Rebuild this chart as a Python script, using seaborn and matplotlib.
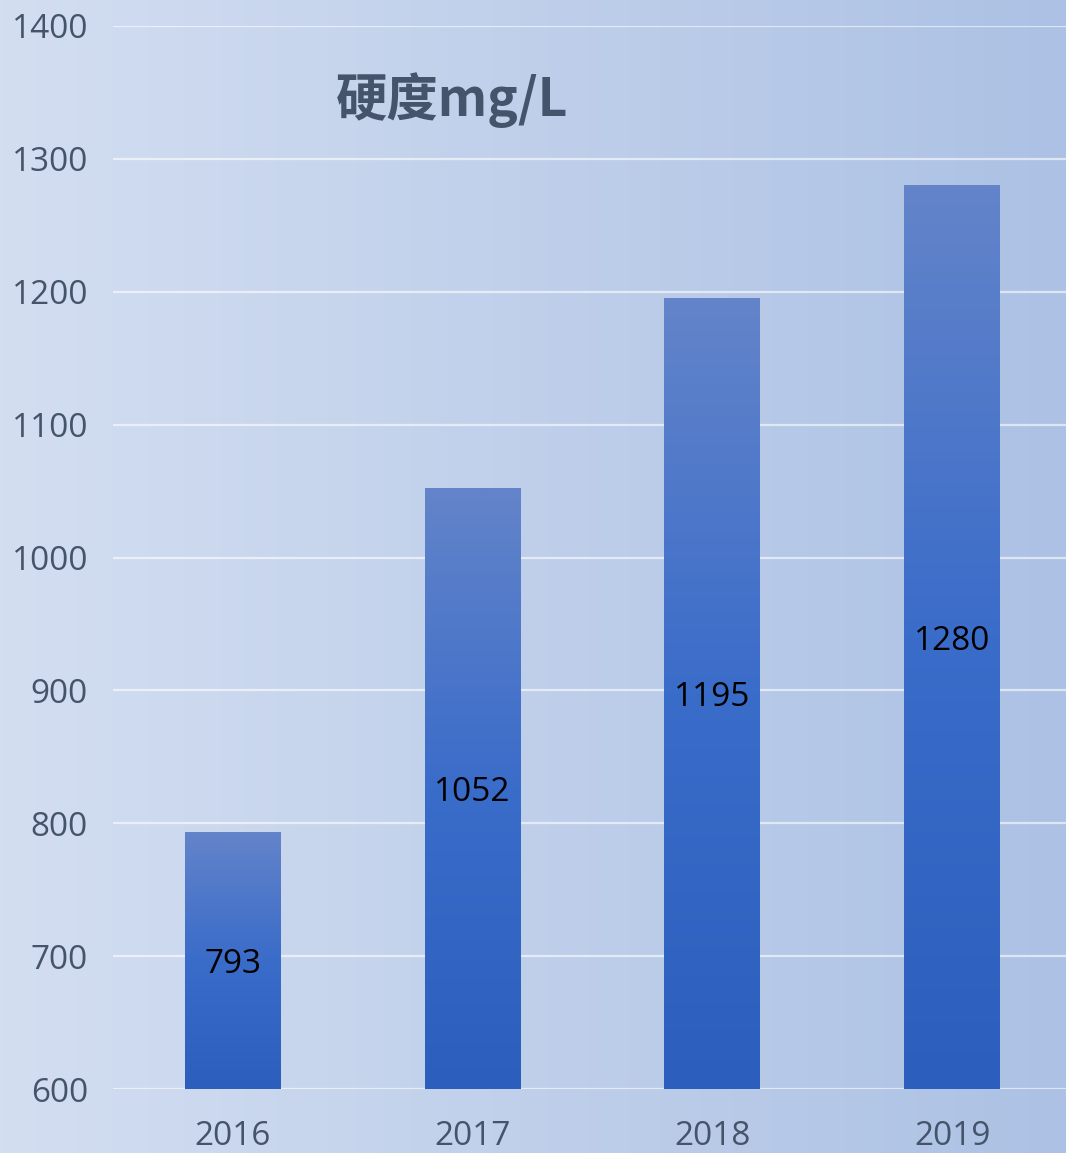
import numpy as np
import pandas as pd
import matplotlib
matplotlib.use("Agg")
import matplotlib.pyplot as plt
import seaborn as sns
from matplotlib.colors import LinearSegmentedColormap

# Water hardness by year (mg/L)
years = ["2016", "2017", "2018", "2019"]
hardness = [793, 1052, 1195, 1280]
y_ticks = [600, 700, 800, 900, 1000, 1100, 1200, 1300, 1400]
title = "硬度mg/L"

sns.set_theme(style="white")
plt.rcParams["font.family"] = ["Open Sans", "Noto Sans CJK SC", "DejaVu Sans"]

W, H = 1066, 1153
fig = plt.figure(figsize=(W / 100, H / 100), dpi=100)

# soft horizontal gradient behind everything
bg = fig.add_axes([0, 0, 1, 1], zorder=0)
bg_cmap = LinearSegmentedColormap.from_list("bg", ["#d3def1", "#acc1e4"])
bg.imshow(np.linspace(0, 1, 256).reshape(1, -1), aspect="auto", cmap=bg_cmap,
          extent=[0, 1, 0, 1])
bg.axis("off")

ax = fig.add_axes([113 / W, 64 / H, (1072 - 113) / W, (1089 - 26) / H], zorder=1)
ax.patch.set_alpha(0)

df = pd.DataFrame({"year": years, "hardness": hardness})
sns.barplot(data=df, x="year", y="hardness", ax=ax, width=0.4,
            color="#3c6cc8", saturation=1, errorbar=None)

ymin, ymax = y_ticks[0], y_ticks[-1]
ax.set_ylim(ymin, ymax)
ax.set_xlim(-0.5, 3.5)

# vertical gradient fill for each bar
bar_cmap = LinearSegmentedColormap.from_list("bar", ["#2c5ebd", "#3a6cca", "#6384c9"])
for patch in ax.patches:
    x0 = patch.get_x()
    w = patch.get_width()
    h = patch.get_height()
    patch.set_facecolor("none")
    patch.set_edgecolor("none")
    ax.imshow(np.linspace(0, 1, 256).reshape(-1, 1), aspect="auto", cmap=bar_cmap,
              origin="lower", extent=[x0, x0 + w, ymin, h], zorder=2)
    ax.text(x0 + w / 2, (ymin + h) / 2, f"{h:.0f}", ha="center",
            va="center_baseline", fontsize=24, color="black", zorder=3)

ax.set_xlim(-0.5, 3.5)
ax.set_ylim(ymin, ymax)
ax.set_yticks(y_ticks)
ax.yaxis.grid(True, color="white", alpha=0.6, linewidth=1.6)
ax.xaxis.grid(False)
ax.set_axisbelow(True)
for s in ax.spines.values():
    s.set_visible(False)
ax.tick_params(axis="both", length=0, labelsize=24, labelcolor="#44546a")
ax.tick_params(axis="y", pad=18)
ax.tick_params(axis="x", pad=22)
ax.set_xlabel("")
ax.set_ylabel("")

fig.text(452 / W, 1 - 100 / H, title, fontsize=37, fontweight="bold",
         color="#44546a", ha="center", va="center",
         family=["Noto Sans CJK SC", "DejaVu Sans"])

fig.savefig("out.png", dpi=100)
